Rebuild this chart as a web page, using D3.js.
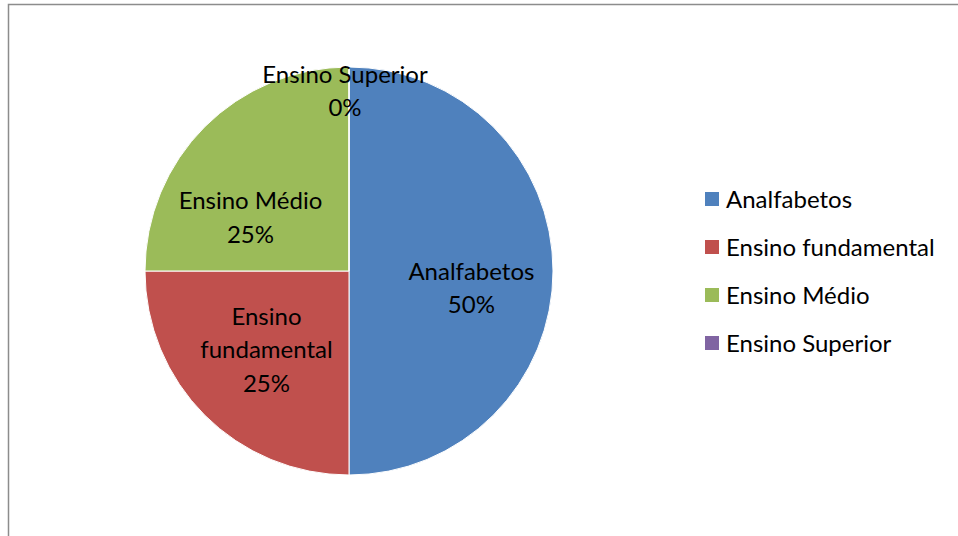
<!DOCTYPE html>
<html>
<head>
<meta charset="utf-8">
<script src="https://cdn.jsdelivr.net/npm/d3@7"></script>
<style>
  body { margin: 0; background: #fff; }
  svg { display: block; }
</style>
</head>
<body>
<div id="chart"></div>
<script>
const categories = ["Analfabetos", "Ensino fundamental", "Ensino Médio", "Ensino Superior"];
const values = [2, 1, 1, 0];
const colors = ["#4F81BD", "#C0504D", "#9BBB59", "#8064A2"];
const labelLines = [["Analfabetos"], ["Ensino", "fundamental"], ["Ensino Médio"], ["Ensino Superior"]];

const width = 958, height = 536;
const font = "Lato, 'Open Sans', sans-serif";
const fontSize = 24;

const svg = d3.select("#chart").append("svg")
  .attr("width", width)
  .attr("height", height);

// chart frame
svg.append("rect")
  .attr("x", 8.5)
  .attr("y", 4.5)
  .attr("width", width + 10)
  .attr("height", height + 10)
  .style("fill", "#fff")
  .style("stroke", "#8c8c8c")
  .style("stroke-width", 1.5);

const cx = 349, cy = 271, r = 204;
const g = svg.append("g").attr("transform", `translate(${cx},${cy})`);

const data = categories.map((c, i) => ({ name: c, value: values[i], color: colors[i], lines: labelLines[i] }));
const pie = d3.pie().sort(null).value(d => d.value);
const arcs = pie(data);
const arc = d3.arc().innerRadius(0).outerRadius(r);
const labelArc = d3.arc().innerRadius(r * 0.6).outerRadius(r * 0.6);

g.selectAll("path.slice")
  .data(arcs)
  .enter()
  .append("path")
  .attr("class", "slice")
  .attr("d", arc)
  .style("fill", d => d.data.color)
  .style("stroke", "#fff")
  .style("stroke-width", 1);

const total = d3.sum(values);
const lineH = 33.5;
// Excel "best fit" nudges, per slice
const nudge = [[0, 17], [4, -8], [0, 3], [0, 0]];

arcs.forEach(d => {
  let [x, y] = labelArc.centroid(d);
  if (d.data.value === 0) {
    // zero slice: label sits at the top edge
    x = -4; y = -r + 24;
  } else if (d.index === 2) {
    x -= 12; y += 30;
  }
  x += nudge[d.index][0];
  y += nudge[d.index][1];
  const lines = d.data.lines.concat([Math.round(d.data.value / total * 100) + "%"]);
  const t = g.append("text")
    .attr("text-anchor", "middle")
    .style("font-family", font)
    .style("font-size", fontSize + "px")
    .style("fill", "#000");
  const y0 = y - (lines.length - 1) * lineH / 2 + 8.5;
  lines.forEach((l, i) => {
    t.append("tspan").attr("x", x).attr("y", y0 + i * lineH).text(l);
  });
});

// legend
const legend = svg.append("g").attr("transform", "translate(705,199)");
const items = legend.selectAll("g")
  .data(data)
  .enter()
  .append("g")
  .attr("transform", (d, i) => `translate(0,${i * 48})`);
items.append("rect")
  .attr("x", 0)
  .attr("y", -7)
  .attr("width", 14)
  .attr("height", 14)
  .style("fill", d => d.color);
items.append("text")
  .attr("x", 21)
  .attr("y", 8.5)
  .style("font-family", font)
  .style("font-size", fontSize + "px")
  .text(d => d.name);
</script>
</body>
</html>
